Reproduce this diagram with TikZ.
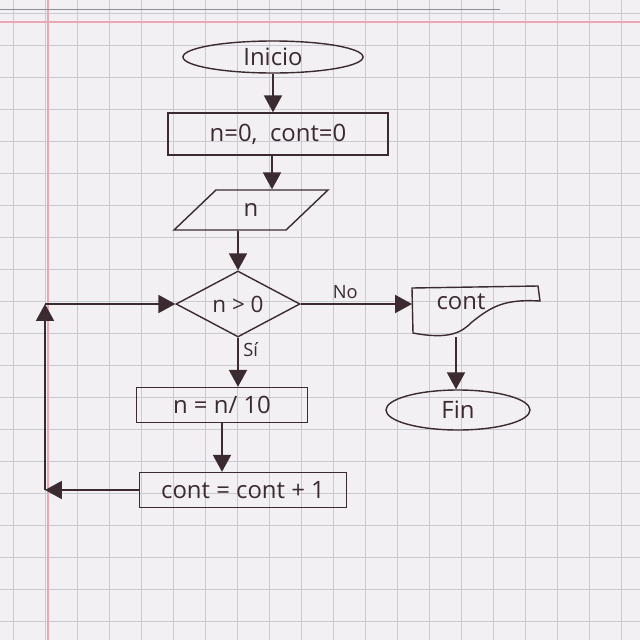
\documentclass[tikz,border=0pt]{standalone}
\usepackage{fontspec}
\setmainfont{Open Sans}
\usetikzlibrary{shapes.geometric,arrows.meta,calc}
\definecolor{ink}{HTML}{3B2A30}
\definecolor{paper}{HTML}{F2F0F3}
\definecolor{gridc}{HTML}{C8CAD5}
\definecolor{margin}{HTML}{E8A8B4}
\tikzset{
  every node/.style={font=\fontsize{17}{19}\selectfont, text=ink},
  box/.style={draw=ink, line width=1pt, rectangle, inner sep=0pt},
  term/.style={draw=ink, line width=1pt, ellipse, inner sep=0pt},
  io/.style={draw=ink, line width=1pt, trapezium, trapezium left angle=56, trapezium right angle=124, trapezium stretches=true, inner sep=0pt},
  decide/.style={draw=ink, line width=1pt, diamond, inner sep=-4pt, font=\fontsize{16}{18}\selectfont},
  flow/.style={draw=ink, line width=1pt, -{Triangle[length=0.42cm,width=0.45cm]}},
  lbl/.style={font=\fontsize{13}{15}\selectfont}
}
\begin{document}
\begin{tikzpicture}[x=0.025cm,y=-0.025cm]
\fill[paper] (0,0) rectangle (640,640);
\useasboundingbox (0,0) rectangle (640,640);
% graph paper
\foreach \k in {0,...,19} {
  \draw[gridc, line width=0.5pt] ({13+32*\k},0) -- ({13+32*\k},640);
  \draw[gridc, line width=0.5pt] (0,{13+32*\k}) -- (640,{13+32*\k});
}
\draw[margin, line width=0.8pt] (48,0) -- (48,640);
\draw[margin, line width=0.8pt] (0,22) -- (640,22);
\draw[gridc!70!black, line width=0.6pt] (0,9) -- (500,9);

% nodes
\node[term, minimum width=4.5cm, minimum height=0.8cm] (inicio) at (273,57) {Inicio};
\node[box, minimum width=5.5cm, minimum height=1.05cm] (init) at (278,134) {n=0,\ \ cont=0};
\node[io, minimum width=3.85cm, minimum height=1cm] (leer) at (251,210) {n};
\node[decide, minimum width=3.1cm, minimum height=1.65cm] (cond) at (238,304) {n > 0};
\node[box, minimum width=4.275cm, minimum height=0.875cm] (div) at (222,405) {n = n/ 10};
\node[box, minimum width=5.175cm, minimum height=0.875cm] (inc) at (243,490) {cont = cont + 1};
\node[term, minimum width=3.6cm, minimum height=1cm] (fin) at (458,410) {Fin};

% output document shape
\draw[ink, line width=1pt] (412,288) -- (538,286) -- (540,301)
  .. controls (505,299) and (492,306) .. (472,322)
  .. controls (462,332) and (450,340) .. (413,333) -- cycle;
\node (salida) at (461,302) {cont};
\coordinate (docin) at (412,304);
\coordinate (docout) at (456,337);

% helper points
\coordinate (a1) at (272,134);
\coordinate (c1) at (45,490);
\coordinate (c2) at (45,304);

% connectors
\draw[flow] (inicio.south) -- (inicio.south |- init.north);
\draw[flow] (a1 |- init.south) -- (a1 |- leer.north);
\draw[flow] (cond.north |- leer.south) -- (cond.north);
\draw[flow] (cond.east) -- node[lbl, above, pos=0.4] {No} (docin);
\draw[flow] (docout) -- (fin.north -| docout);
\draw[flow] (cond.south) -- node[lbl, right, pos=0.25] {Sí} (cond.south |- div.north);
\draw[flow] (div.south) -- (div.south |- inc.north);
\draw[flow] (inc.west) -- (c1);
\draw[flow] (c1) -- (c2);
\draw[flow] (c2) -- (cond.west);
\end{tikzpicture}
\end{document}
